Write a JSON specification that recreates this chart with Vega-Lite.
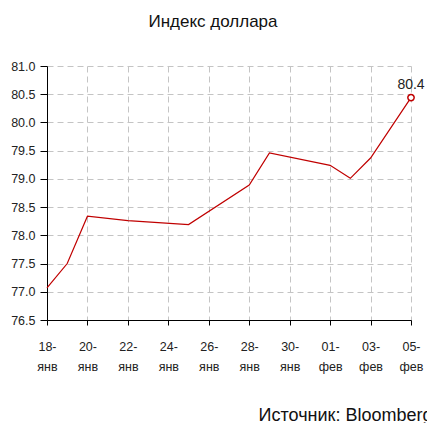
{
  "$schema": "https://vega.github.io/schema/vega-lite/v6.json",
  "autosize": "none",
  "width": 364,
  "height": 254,
  "padding": {"left": 47, "top": 66, "right": 16, "bottom": 103},
  "background": "white",
  "config": {
    "font": "Liberation Sans",
    "view": {"stroke": null},
    "axis": {"labelFont": "Liberation Sans", "titleFont": "Liberation Sans", "labelColor": "#222", "labelFontSize": 12.5}
  },
  "title": {
    "text": "Индекс доллара",
    "fontSize": 17,
    "fontWeight": "normal",
    "color": "#111",
    "anchor": "middle",
    "dx": -16,
    "offset": 29
  },
  "data": {
    "values": [
      {"date": "2021-01-18", "value": 77.07},
      {"date": "2021-01-19", "value": 77.5},
      {"date": "2021-01-20", "value": 78.34},
      {"date": "2021-01-22", "value": 78.26},
      {"date": "2021-01-25", "value": 78.19},
      {"date": "2021-01-28", "value": 78.89},
      {"date": "2021-01-29", "value": 79.46},
      {"date": "2021-02-01", "value": 79.24},
      {"date": "2021-02-02", "value": 79.01},
      {"date": "2021-02-03", "value": 79.37},
      {"date": "2021-02-05", "value": 80.44}
    ]
  },
  "encoding": {
    "x": {
      "field": "date",
      "type": "temporal",
      "scale": {"type": "utc", "domain": [{"year": 2021, "month": 1, "date": 18, "utc": true}, {"year": 2021, "month": 2, "date": 5, "utc": true}]},
      "axis": {
        "values": [
          {"year": 2021, "month": 1, "date": 18, "utc": true},
          {"year": 2021, "month": 1, "date": 20, "utc": true},
          {"year": 2021, "month": 1, "date": 22, "utc": true},
          {"year": 2021, "month": 1, "date": 24, "utc": true},
          {"year": 2021, "month": 1, "date": 26, "utc": true},
          {"year": 2021, "month": 1, "date": 28, "utc": true},
          {"year": 2021, "month": 1, "date": 30, "utc": true},
          {"year": 2021, "month": 2, "date": 1, "utc": true},
          {"year": 2021, "month": 2, "date": 3, "utc": true},
          {"year": 2021, "month": 2, "date": 5, "utc": true}
        ],
        "labelExpr": "[utcFormat(datum.value, '%d') + '-', utcmonth(datum.value) == 0 ? 'янв' : 'фев']",
        "labelLineHeight": 20,
        "labelPadding": 15,
        "labelFlush": false,
        "labelOverlap": false,
        "tickSize": 5,
        "tickColor": "#000",
        "domainColor": "#000",
        "grid": true,
        "gridColor": "#c4c4c4",
        "gridDash": [6, 4],
        "title": "Источник: Bloomberg",
        "titleFontSize": 18,
        "titleFontWeight": "normal",
        "titleColor": "#111",
        "titleAlign": "right",
        "titleAnchor": "end",
        "titleBaseline": "alphabetic",
        "titleX": 385,
        "titleY": 100
      }
    },
    "y": {
      "field": "value",
      "type": "quantitative",
      "scale": {"domain": [76.5, 81.0], "nice": false, "zero": false},
      "axis": {
        "values": [76.5, 77.0, 77.5, 78.0, 78.5, 79.0, 79.5, 80.0, 80.5, 81.0],
        "format": ".1f",
        "tickSize": 7,
        "tickColor": "#000",
        "domainColor": "#000",
        "labelPadding": 5,
        "grid": true,
        "gridColor": "#c4c4c4",
        "gridDash": [6, 4],
        "title": null
      }
    }
  },
  "layer": [
    {"mark": {"type": "line", "color": "#c00000", "strokeWidth": 1.2}},
    {
      "transform": [{"filter": "datum.value > 80"}],
      "mark": {"type": "point", "shape": "circle", "filled": false, "fill": "white", "color": "#c00000", "strokeWidth": 1.5, "size": 40, "opacity": 1}
    },
    {
      "transform": [{"filter": "datum.value > 80"}],
      "mark": {"type": "text", "dy": -9, "baseline": "alphabetic", "fontSize": 14, "color": "#222"},
      "encoding": {"text": {"field": "value", "type": "quantitative", "format": ".1f"}}
    }
  ]
}
